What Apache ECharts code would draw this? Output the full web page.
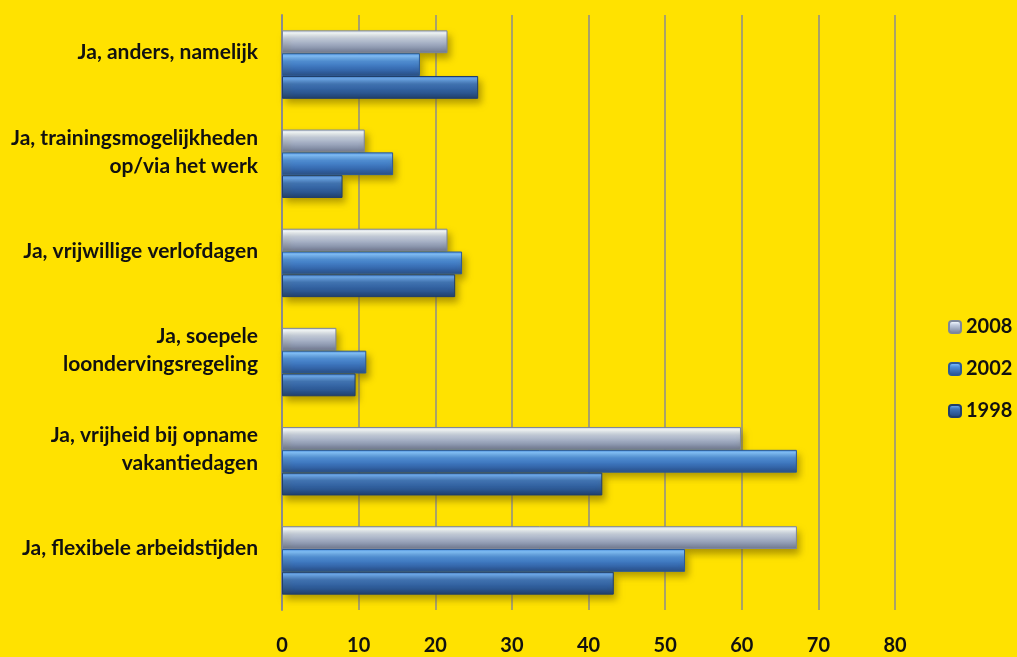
<!DOCTYPE html>
<html>
<head>
<meta charset="utf-8">
<script src="https://cdn.jsdelivr.net/npm/echarts@6/dist/echarts.min.js"></script>
<style>
  html, body { margin: 0; padding: 0; background: #ffe200; }
  #chart { width: 1017px; height: 657px; }
</style>
</head>
<body>
<div id="chart"></div>
<script>
const categories = [
  "Ja, anders, namelijk",
  "Ja, trainingsmogelijkheden\nop/via het werk",
  "Ja, vrijwillige verlofdagen",
  "Ja, soepele\nloondervingsregeling",
  "Ja, vrijheid bij opname\nvakantiedagen",
  "Ja, flexibele arbeidstijden",
];
const years = ["2008", "2002", "1998"];
const values2008 = [21.6, 10.8, 21.6, 7.1, 59.9, 67.2];
const values2002 = [18.0, 14.5, 23.5, 11.0, 67.2, 52.6];
const values1998 = [25.6, 7.9, 22.6, 9.6, 41.8, 43.3];
const xTicks = [0, 10, 20, 30, 40, 50, 60, 70, 80];

const font = "Lato, 'Open Sans', sans-serif";

function grad(stops) {
  return new echarts.graphic.LinearGradient(0, 0, 0, 1,
    stops.map(([o, c]) => ({ offset: o, color: c })));
}

const styles = [
  {
    color: grad([[0, "#c9d3e6"], [0.12, "#f4faff"], [0.35, "#c3cde0"], [0.75, "#8e99b0"], [1, "#6e7890"]]),
    borderColor: "#7d879c",
  },
  {
    color: grad([[0, "#4a8ee0"], [0.12, "#7fc0ff"], [0.35, "#4d8fdc"], [0.75, "#3466aa"], [1, "#284e86"]]),
    borderColor: "#2a5a9a",
  },
  {
    color: grad([[0, "#3f78c0"], [0.12, "#6aa8f0"], [0.35, "#3e74ba"], [0.75, "#2b5690"], [1, "#1f3e6a"]]),
    borderColor: "#1f3e6c",
  },
];

const seriesData = [values2008, values2002, values1998];

let myChart = echarts.init(document.getElementById("chart"));
myChart.setOption({
  backgroundColor: "#ffe200",
  animation: false,
  grid: { left: 282, right: 122, top: 15, bottom: 47 },
  legend: {
    orient: "vertical",
    left: 943,
    top: 312,
    itemGap: 22,
    itemWidth: 12,
    itemHeight: 12,
    data: years,
    textStyle: { fontFamily: font, fontSize: 20, fontWeight: "bold", color: "#111" },
  },
  xAxis: {
    type: "value",
    min: 0,
    max: 80,
    interval: 10,
    axisLine: { show: false },
    axisTick: { show: false },
    splitLine: { show: true, lineStyle: { color: "#8c8c8c", width: 1.5 } },
    axisLabel: {
      margin: 26,
      fontFamily: font,
      fontSize: 20,
      fontWeight: "bold",
      color: "#111",
      formatter: (v) => (xTicks.includes(v) ? String(v) : ""),
    },
  },
  yAxis: {
    type: "category",
    inverse: true,
    data: categories,
    axisLine: { show: true, lineStyle: { color: "#8c8c8c", width: 2 } },
    axisTick: { show: false },
    axisLabel: {
      margin: 24,
      color: "#111",
      align: "right",
      verticalAlign: "middle",
      // extra spacer line lifts each label a little, as in the original
      formatter: (v) => v.split("\n").map((l) => "{t|" + l + "}").join("\n") + "\n{s| }",
      rich: {
        t: { fontFamily: font, fontSize: 21, fontWeight: "bold", lineHeight: 28, color: "#111", align: "right" },
        s: { fontSize: 10, lineHeight: 24 },
      },
    },
  },
  series: years.map((y, i) => ({
    name: y,
    type: "bar",
    data: seriesData[i],
    barCategoryGap: "31%",
    barGap: "0%",
    itemStyle: {
      color: styles[i].color,
      borderColor: styles[i].borderColor,
      borderWidth: 1,
      shadowColor: "rgba(120, 100, 0, 0.6)",
      shadowBlur: 7,
      shadowOffsetY: 5,
      shadowOffsetX: 3,
    },
  })),
});
</script>
</body>
</html>
